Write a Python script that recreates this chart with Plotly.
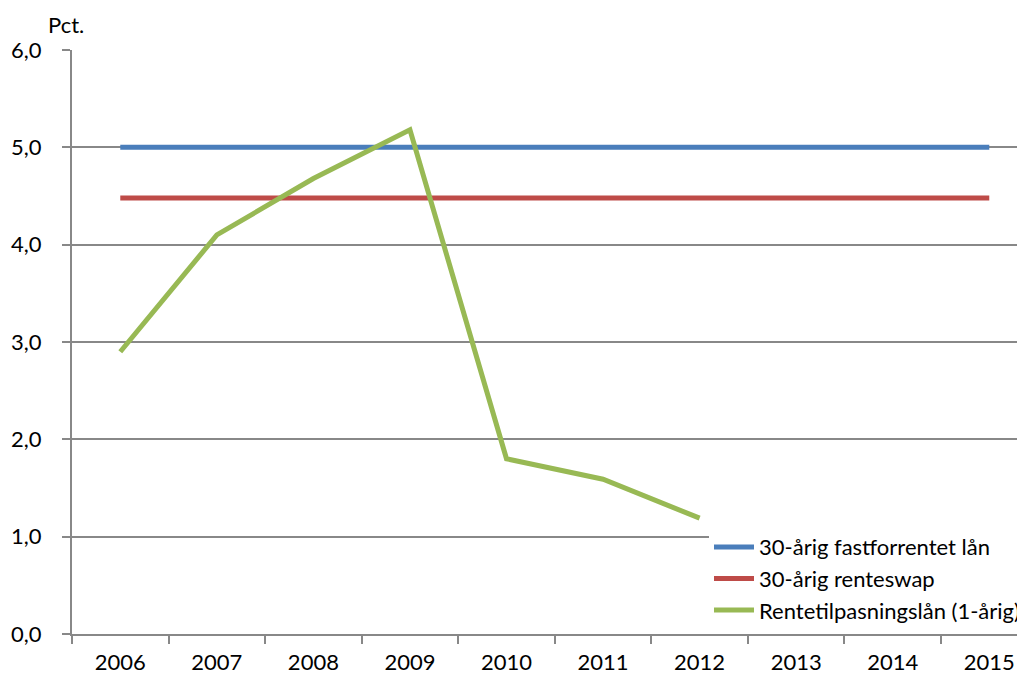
import plotly.graph_objects as go

years = ["2006", "2007", "2008", "2009", "2010", "2011", "2012", "2013", "2014", "2015"]
fastforrentet = [5.0] * 10
renteswap = [4.48] * 10
rentetilpasning = [2.9, 4.1, 4.68, 5.18, 1.8, 1.59, 1.19]

names = ["30-årig fastforrentet lån", "30-årig renteswap", "Rentetilpasningslån (1-årig)"]
colors = ["#4a7ebb", "#be4b48", "#98b954"]

fig = go.Figure()
fig.add_trace(go.Scatter(x=years, y=fastforrentet, mode="lines", name=names[0],
                         line=dict(color=colors[0], width=5)))
fig.add_trace(go.Scatter(x=years, y=renteswap, mode="lines", name=names[1],
                         line=dict(color=colors[1], width=5)))
fig.add_trace(go.Scatter(x=years[:len(rentetilpasning)], y=rentetilpasning, mode="lines", name=names[2],
                         line=dict(color=colors[2], width=5)))

font = dict(family="Lato, Open Sans, sans-serif", size=22, color="#000")
fig.update_layout(
    width=1017, height=678,
    margin=dict(l=64, r=0, t=42, b=52),
    paper_bgcolor="white", plot_bgcolor="white",
    font=font,
    separators=",.",
    showlegend=True,
    legend=dict(x=1, y=0.005, xanchor="right", yanchor="bottom", bgcolor="white",
                font=font, tracegroupgap=0, itemwidth=40,
                borderwidth=0),
    xaxis=dict(type="category", tickson="boundaries", ticks="outside", ticklen=8,
               tickcolor="#888", tickwidth=2, showgrid=False, showline=True, linecolor="#888", linewidth=2,
               tickfont=font, range=[-0.5, 9.37], automargin=False, ticklabelstandoff=8),
    yaxis=dict(range=[0, 6], dtick=1, tickformat=".1f", ticks="outside", ticklen=8,
               tickcolor="#888", tickwidth=2, showgrid=True, gridcolor="#888", gridwidth=1.5,
               showline=True, linecolor="#888", linewidth=2, zeroline=False, tickfont=font,
               automargin=False, ticklabelstandoff=16),
    annotations=[dict(text="Pct.", xref="paper", yref="paper", x=0, y=1, xanchor="center",
                      yanchor="bottom", xshift=-6, yshift=10, showarrow=False, font=font)],
)
fig.write_html("out.html")
